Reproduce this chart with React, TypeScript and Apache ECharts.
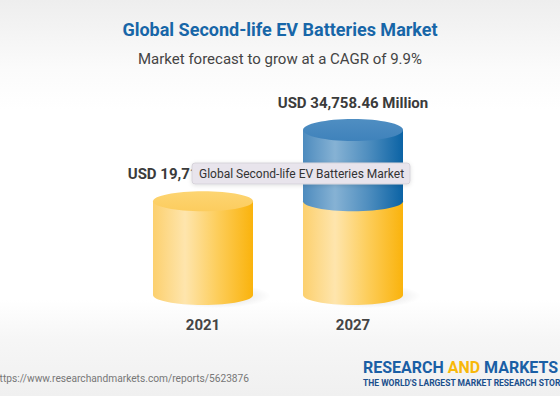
import React, { useEffect, useRef } from 'react';
import * as echarts from 'echarts';

const categories = ['2021', '2027'];
const values = [19718.25, 34758.46];
const valueLabels = ['USD 19,718.25 Million', 'USD 34,758.46 Million'];
const titleText = 'Global Second-life EV Batteries Market';
const subtitleText = 'Market forecast to grow at a CAGR of 9.9%';
const tooltipText = 'Global Second-life EV Batteries Market';
const sourceUrl = 'https://www.researchandmarkets.com/reports/5623876';
const logoTagline = "THE WORLD'S LARGEST MARKET RESEARCH STORE";

export default function App() {
  const ref = useRef<HTMLDivElement>(null);
  useEffect(() => {
    const chart = echarts.init(ref.current!, null, { renderer: 'svg' });
    const base = values[0];
    const yellowBody = () =>
      new echarts.graphic.LinearGradient(0, 0, 1, 0, [
        { offset: 0, color: '#fcd06e' },
        { offset: 0.32, color: '#fee5ad' },
        { offset: 0.65, color: '#fdcd5a' },
        { offset: 1, color: '#fab30c' },
      ]);
    const blueBody = () =>
      new echarts.graphic.LinearGradient(0, 0, 1, 0, [
        { offset: 0, color: '#4d8bbe' },
        { offset: 0.32, color: '#86b2d4' },
        { offset: 0.65, color: '#4f8ebf' },
        { offset: 1, color: '#0b63a5' },
      ]);
    const data = values.map((v, i) => [i, v]);
    chart.setOption({
      animation: false,
      grid: { left: 128, right: 132, top: 105, bottom: 101 },
      xAxis: {
        type: 'category',
        data: categories,
        axisLine: { show: false },
        axisTick: { show: false },
        axisLabel: {
          margin: 22,
          fontFamily: 'Roboto',
          fontWeight: 'bold',
          fontSize: 15,
          color: '#444444',
        },
      },
      yAxis: { type: 'value', min: 0, max: 40000, show: false, splitLine: { show: false } },
      series: [
        {
          type: 'custom',
          z: 2,
          data,
          renderItem: (params: any, api: any) => {
            const idx = api.value(0);
            const v = api.value(1);
            const [cx, y0] = api.coord([idx, 0]);
            const yB = api.coord([idx, Math.min(v, base)])[1];
            const yT = api.coord([idx, v])[1];
            const rx = api.size([1, 0])[0] / 3;
            const ry = 10;
            const children: any[] = [];
            children.push({
              type: 'ellipse',
              shape: { cx: cx + 14, cy: y0 + 1, rx: rx + 4, ry: ry + 2 },
              style: {
                fill: new echarts.graphic.RadialGradient(0.5, 0.5, 0.5, [
                  { offset: 0, color: 'rgba(0,0,0,0.16)' },
                  { offset: 1, color: 'rgba(0,0,0,0)' },
                ]),
              },
            });
            children.push({
              type: 'rect',
              shape: { x: cx - rx, y: yB, width: rx * 2, height: y0 - yB },
              style: { fill: yellowBody() },
            });
            children.push({
              type: 'ellipse',
              shape: { cx, cy: y0, rx, ry },
              style: { fill: yellowBody() },
            });
            if (v > base) {
              children.push({
                type: 'rect',
                shape: { x: cx - rx, y: yT, width: rx * 2, height: yB - yT },
                style: { fill: blueBody() },
              });
              children.push({
                type: 'ellipse',
                shape: { cx, cy: yB, rx, ry },
                style: { fill: blueBody() },
              });
              children.push({
                type: 'ellipse',
                shape: { cx, cy: yT, rx, ry: ry + 1 },
                style: {
                  fill: new echarts.graphic.LinearGradient(0, 0, 0, 1, [
                    { offset: 0, color: '#4f8ec2' },
                    { offset: 1, color: '#3f82bb' },
                  ]),
                },
              });
            } else {
              children.push({
                type: 'ellipse',
                shape: { cx, cy: yT, rx, ry },
                style: {
                  fill: new echarts.graphic.LinearGradient(0, 0, 0, 1, [
                    { offset: 0, color: '#fdd572' },
                    { offset: 1, color: '#fccc5e' },
                  ]),
                },
              });
            }
            children.push({
              type: 'text',
              style: {
                text: valueLabels[idx],
                x: cx,
                y: yT - 27,
                align: 'center',
                textAlign: 'center',
                verticalAlign: 'middle',
                textVerticalAlign: 'middle',
                font: 'bold 15px Roboto',
                fill: '#3b3b3b',
              },
            });
            return { type: 'group', children };
          },
        },
      ],
      graphic: [
        {
          type: 'text',
          left: 'center',
          top: 20,
          style: {
            text: titleText,
            font: 'bold 18px Roboto',
            fill: '#1766a8',
          },
        },
        {
          type: 'text',
          left: 'center',
          top: 51,
          style: {
            text: subtitleText,
            font: '15px Roboto',
            fill: '#444444',
          },
        },
        {
          type: 'rect',
          z: 100,
          zlevel: 0,
          shape: { x: 192, y: 163, width: 218, height: 21, r: 3 },
          style: {
            fill: '#e8e4ec',
            stroke: '#d6d3da',
            lineWidth: 1,
            shadowBlur: 4,
            shadowColor: 'rgba(0,0,0,0.12)',
            shadowOffsetY: 1,
          },
        },
        {
          type: 'text',
          z: 101,
          zlevel: 0,
          style: {
            text: tooltipText,
            x: 199,
            y: 173.5,
            verticalAlign: 'middle',
            textVerticalAlign: 'middle',
            font: '12px Roboto',
            fill: '#333333',
          },
        },
        {
          type: 'text',
          style: {
            text: sourceUrl,
            x: -6,
            y: 378,
            verticalAlign: 'middle',
            textVerticalAlign: 'middle',
            font: '10.2px Roboto',
            fill: '#777777',
          },
        },
        {
          type: 'text',
          x: 363,
          y: 367,
          scaleX: 0.94,
          style: {
            text: '{b|RESEARCH }{y|AND}{b| MARKETS}',
            x: 0,
            y: 0,
            verticalAlign: 'middle',
            textVerticalAlign: 'middle',
            rich: {
              b: { font: 'bold 17px Roboto', fill: '#1a5fa5', color: '#1a5fa5' },
              y: { font: 'bold 17px Roboto', fill: '#f8b80a', color: '#f8b80a' },
            },
          },
        },
        {
          type: 'text',
          style: {
            text: logoTagline,
            x: 363,
            y: 383,
            verticalAlign: 'middle',
            textVerticalAlign: 'middle',
            font: 'bold 8.5px Roboto',
            fill: '#1b4f8c',
          },
        },
      ],
    });
    return () => chart.dispose();
  }, []);
  return (
    <div
      ref={ref}
      style={{
        position: 'fixed',
        left: 0,
        top: 0,
        width: 560,
        height: 396,
        background:
          'linear-gradient(to bottom, #eeeeee 0px, #fbfbfb 70px, #ffffff 110px, #ffffff 300px, #f6f6f6 340px, #f0f0f0 396px)',
      }}
    />
  );
}
